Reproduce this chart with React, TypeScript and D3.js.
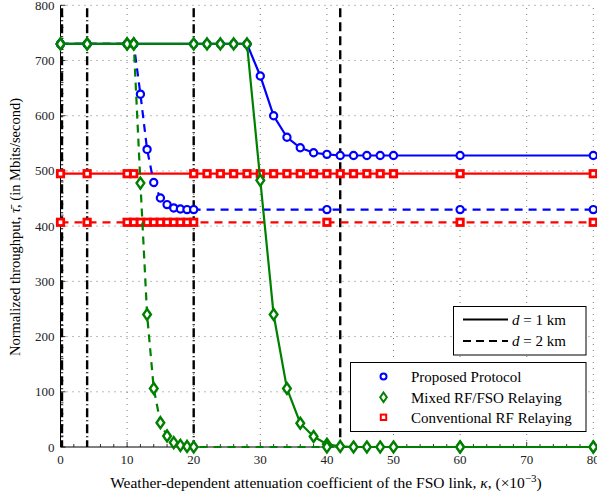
import React from "react";
import * as d3 from "d3";

const x1 = [0, 4, 10, 11, 20, 22, 24, 26, 28, 30, 32, 34, 36, 38, 40, 42, 44, 46, 48, 50, 60, 80];
const x2 = [0, 4, 10, 11, 12, 13, 14, 15, 16, 17, 18, 19, 20, 40, 60, 80];

const proposed1 = [730, 730, 730, 730, 730, 730, 730, 730, 730, 672, 600, 561, 542, 533, 530, 528, 528, 528, 528, 528, 528, 528];
const mixed1 = [730, 730, 730, 730, 730, 730, 730, 730, 730, 483, 240, 106, 43, 19, 5, 1, 0, 0, 0, 0, 0, 0];
const conv1 = [495, 495, 495, 495, 495, 495, 495, 495, 495, 495, 495, 495, 495, 495, 495, 495, 495, 495, 495, 495, 495, 495];

const proposed2 = [730, 730, 730, 730, 639, 539, 479, 451, 439, 433, 431, 430, 430, 430, 430, 430];
const mixed2 = [730, 730, 730, 730, 478, 240, 106, 44, 20, 8, 3, 1, 0, 0, 0, 0];
const conv2 = [407, 407, 407, 407, 407, 407, 407, 407, 407, 407, 407, 407, 407, 407, 407, 407];

const vlines = [0, 4, 20, 42];
const xTicks = [0, 10, 20, 30, 40, 50, 60, 70, 80];
const yTicks = [0, 100, 200, 300, 400, 500, 600, 700, 800];

const BLUE = "#0000ff";
const GREEN = "#008000";
const RED = "#ff0000";
const FONT = "'Liberation Serif', 'Times New Roman', serif";

export default function App() {
  const W = 597, H = 496;
  const x = d3.scaleLinear().domain([0, 80]).range([60.5, 593.3]);
  const y = d3.scaleLinear().domain([0, 800]).range([447, 5.3]);
  const line = (xs: number[], ys: number[]) =>
    d3.line<number>().x((_, i) => x(xs[i])).y((v) => y(v))(ys) || "";

  const circles = (xs: number[], ys: number[]) =>
    xs.map((v, i) => (
      <circle key={i} cx={x(v)} cy={y(ys[i])} r={3.6} fill="white" stroke={BLUE} strokeWidth={2.2} />
    ));
  const diamonds = (xs: number[], ys: number[]) =>
    xs.map((v, i) => {
      const cx = x(v), cy = y(ys[i]), s = 5.5;
      return (
        <path key={i} d={`M${cx},${cy - s}L${cx + s * 0.7},${cy}L${cx},${cy + s}L${cx - s * 0.7},${cy}Z`}
          fill="white" stroke={GREEN} strokeWidth={2.4} />
      );
    });
  const squares = (xs: number[], ys: number[]) =>
    xs.map((v, i) => (
      <rect key={i} x={x(v) - 3.2} y={y(ys[i]) - 3.2} width={6.4} height={6.4} fill="white" stroke={RED} strokeWidth={2.8} />
    ));

  const xMinor = d3.range(0, 81, 2);
  const yMinor = d3.range(0, 801, 20);

  return (
    <svg width={W} height={H} style={{ position: "absolute", left: 0, top: 0 }} fontFamily={FONT}>
      <rect width={W} height={H} fill="white" />
      {/* grid */}
      {xTicks.slice(1).map((t) => (
        <line key={"gx" + t} x1={x(t)} x2={x(t)} y1={y(0)} y2={y(800)} stroke="#555" strokeWidth={0.8} strokeDasharray="1,5" />
      ))}
      {yTicks.slice(1).map((t) => (
        <line key={"gy" + t} x1={x(0)} x2={x(80)} y1={y(t)} y2={y(t)} stroke="#555" strokeWidth={0.8} strokeDasharray="1,5" />
      ))}
      {/* minor ticks */}
      {xMinor.map((t) => (
        <line key={"mx" + t} x1={x(t)} x2={x(t)} y1={y(0)} y2={y(0) - (t % 10 === 0 ? 5 : 3)} stroke="black" strokeWidth={0.8} />
      ))}
      {yMinor.map((t) => (
        <line key={"my" + t} x1={x(0)} x2={x(0) + (t % 100 === 0 ? 5 : 3)} y1={y(t)} y2={y(t)} stroke="black" strokeWidth={0.8} />
      ))}
      {/* vertical reference lines */}
      {vlines.map((v) => (
        <line key={"v" + v} x1={x(v) + (v === 0 ? 1.5 : 0)} x2={x(v) + (v === 0 ? 1.5 : 0)} y1={y(800) + 3} y2={y(0)}
          stroke="black" strokeWidth={2.4}
          strokeDasharray={v === 42 ? "9,5" : "9,3,1,3"} />
      ))}
      {/* axes */}
      <line x1={x(0)} x2={x(0)} y1={y(0)} y2={y(800)} stroke="black" strokeWidth={1} />
      <line x1={x(0)} x2={x(80)} y1={y(0)} y2={y(0)} stroke="black" strokeWidth={1} />
      {xTicks.map((t) => (
        <text key={"tx" + t} x={x(t)} y={y(0) + 17} fontSize={13} textAnchor="middle" fill="#222">{t}</text>
      ))}
      {yTicks.map((t) => (
        <text key={"ty" + t} x={x(0) - 6} y={y(t) + 4.5} fontSize={13} textAnchor="end" fill="#222">{t}</text>
      ))}
      {/* red */}
      <path d={line(x1, conv1)} fill="none" stroke={RED} strokeWidth={2.2} />
      <path d={line(x2, conv2)} fill="none" stroke={RED} strokeWidth={2.2} strokeDasharray="8,6" />
      {squares(x1, conv1)}
      {squares(x2, conv2)}
      {/* blue */}
      <path d={line(x1, proposed1)} fill="none" stroke={BLUE} strokeWidth={2.2} />
      <path d={line(x2, proposed2)} fill="none" stroke={BLUE} strokeWidth={2.2} strokeDasharray="8,6" />
      {circles(x1, proposed1)}
      {circles(x2, proposed2)}
      {/* green */}
      <path d={line(x1, mixed1)} fill="none" stroke={GREEN} strokeWidth={2.2} />
      <path d={line(x2, mixed2)} fill="none" stroke={GREEN} strokeWidth={2.2} strokeDasharray="8,6" />
      {diamonds(x1, mixed1)}
      {diamonds(x2, mixed2)}
      {/* legend 1 */}
      <rect x={453.5} y={306.5} width={132.5} height={48.5} fill="white" stroke="black" strokeWidth={1} />
      <line x1={463} x2={508} y1={319.5} y2={319.5} stroke="black" strokeWidth={2} />
      <line x1={463} x2={508} y1={341} y2={341} stroke="black" strokeWidth={2} strokeDasharray="8,5" />
      <text x={512} y={324.5} fontSize={15}><tspan fontStyle="italic">d</tspan> = 1 km</text>
      <text x={512} y={346} fontSize={15}><tspan fontStyle="italic">d</tspan> = 2 km</text>
      {/* legend 2 */}
      <rect x={350.5} y={362.5} width={235.5} height={69} fill="white" stroke="black" strokeWidth={1} />
      <circle cx={383.5} cy={376.5} r={3} fill="white" stroke={BLUE} strokeWidth={2} />
      <path d="M383.5,392.5L386.8,397.3L383.5,402.1L380.2,397.3Z" fill="white" stroke={GREEN} strokeWidth={2} />
      <rect x={380.8} y={414.6} width={5.4} height={5.4} fill="white" stroke={RED} strokeWidth={2} />
      <text x={411} y={381.5} fontSize={15}>Proposed Protocol</text>
      <text x={411} y={402.5} fontSize={15}>Mixed RF/FSO Relaying</text>
      <text x={411} y={422.5} fontSize={15}>Conventional RF Relaying</text>
      {/* axis labels */}
      <text x={326} y={488} fontSize={15.5} textAnchor="middle">
        Weather-dependent attenuation coefficient of the FSO link, <tspan fontStyle="italic">κ</tspan>, (×10<tspan fontSize={11} dy={-6}>−3</tspan><tspan dy={6}>)</tspan>
      </text>
      <text transform={`translate(20,${227}) rotate(-90)`} fontSize={14.5} textAnchor="middle">
        Normalized throughput, <tspan fontStyle="italic">τ̄</tspan>, (in Mbits/second)
      </text>
    </svg>
  );
}
